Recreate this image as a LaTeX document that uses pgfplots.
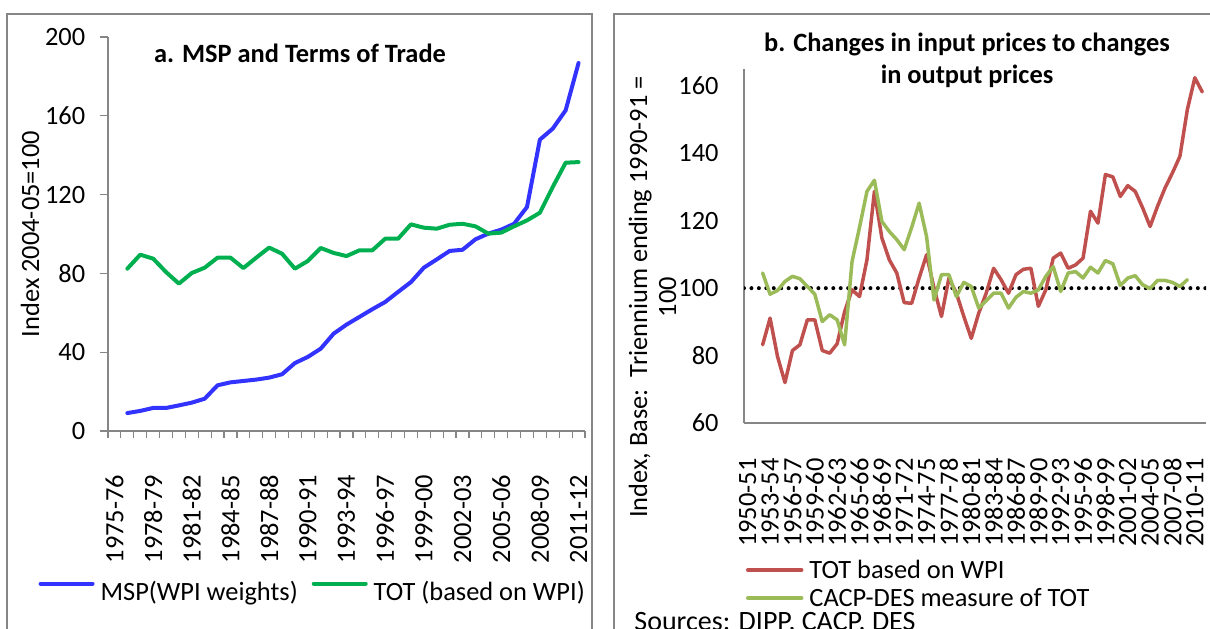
\documentclass[border=0pt]{standalone}
\usepackage{pgfplots}
\pgfplotsset{compat=1.18}
\usepackage{fontspec}
\setmainfont{Carlito}
\definecolor{mspblue}{RGB}{51,51,255}
\definecolor{totgreen}{RGB}{0,176,80}
\definecolor{wpired}{RGB}{192,80,77}
\definecolor{cacpgreen}{RGB}{155,187,89}
\definecolor{framegray}{RGB}{134,134,134}
\definecolor{axisgray}{RGB}{134,134,134}

\pgfplotstableread{
x y
1 9.1
2 10.2
3 11.7
4 11.7
5 13.0
6 14.4
7 16.4
8 23.2
9 24.7
10 25.4
11 26.1
12 27.1
13 28.8
14 34.5
15 37.6
16 41.8
17 49.4
18 54.0
19 57.9
20 61.8
21 65.5
22 70.6
23 75.6
24 82.9
25 87.1
26 91.4
27 92.0
28 97.3
29 100.2
30 102.2
31 105.2
32 113.7
33 147.9
34 153.5
35 162.8
36 186.8
}\msp

\pgfplotstableread{
x y
1 82.4
2 89.5
3 87.5
4 80.7
5 74.8
6 80.2
7 82.9
8 88.0
9 88.0
10 82.7
11 88.0
12 93.1
13 90.0
14 82.4
15 86.3
16 92.9
17 90.4
18 88.8
19 91.7
20 91.7
21 97.6
22 97.6
23 104.9
24 103.2
25 102.7
26 104.7
27 105.2
28 103.9
29 100.2
30 100.7
31 103.9
32 106.9
33 110.8
34 123.9
35 136.2
36 136.5
}\tot

\pgfplotstableread{
x y
2 83.2
3 91.1
4 79.7
5 72.0
6 81.5
7 83.2
8 90.6
9 90.6
10 81.5
11 80.7
12 83.5
13 93.0
14 99.5
15 97.5
16 108.4
17 128.7
18 114.9
19 108.4
20 104.5
21 95.7
22 95.5
23 103.0
24 109.9
25 100.0
26 91.6
27 103.0
28 98.5
29 91.6
30 85.1
31 92.6
32 98.5
33 105.9
34 102.5
35 98.5
36 104.0
37 105.6
38 105.9
39 94.6
40 99.5
41 108.9
42 110.4
43 105.9
44 106.9
45 108.9
46 122.8
47 119.3
48 133.7
49 133.0
50 127.2
51 130.4
52 128.7
53 123.8
54 118.3
55 124.3
56 129.7
57 134.2
58 139.1
59 153.0
60 162.4
61 158.2
}\totwpi

\pgfplotstableread{
x y
2 104.5
3 98.2
4 99.3
5 102.0
6 103.5
7 102.8
8 100.5
9 98.2
10 90.1
11 92.1
12 90.6
13 83.2
14 107.9
15 118.0
16 128.7
17 132.0
18 119.8
19 116.8
20 114.4
21 111.4
22 118.0
23 125.2
24 115.3
25 96.5
26 104.0
27 104.0
28 97.5
29 101.7
30 100.5
31 94.1
32 96.3
33 98.5
34 98.5
35 94.1
36 97.3
37 99.0
38 98.5
39 99.5
40 103.5
41 106.4
42 99.0
43 104.5
44 104.9
45 103.0
46 106.2
47 104.5
48 108.2
49 107.2
50 100.8
51 103.0
52 103.7
53 101.0
54 99.9
55 102.3
56 102.3
57 101.7
58 100.5
59 102.5
}\cacp

\begin{document}
\begin{tikzpicture}[font=\fontsize{13.2}{15.8}\selectfont]
\path[use as bounding box] (0,0) rectangle (605pt,314pt);
\clip (0,0) rectangle (605pt,314pt);
\draw[framegray, line width=1pt] (3.5pt,-20pt) -- (3.5pt,307pt) -- (296pt,307pt) -- (296pt,-20pt);
\draw[framegray, line width=1pt] (307pt,-20pt) -- (307pt,307pt) -- (640pt,307pt);

\begin{axis}[
  at={(54pt,98.5pt)}, anchor=south west,
  width=238.5pt, height=197pt, scale only axis,
  xmin=-0.5, xmax=36.5, ymin=0, ymax=200,
  axis lines=left, axis line style={draw=axisgray, line width=0.6pt, -},
  xtick={0,3,...,36},
  xticklabels={1975-76,1978-79,1981-82,1984-85,1987-88,1990-91,1993-94,1996-97,1999-00,2002-03,2005-06,2008-09,2011-12},
  minor xtick={-0.5,0.5,...,36.5},
  ytick={0,40,...,200},
  tick align=outside, tick pos=left,
  major tick length=4.2pt, minor tick length=3.5pt,
  tick style={axisgray, line width=0.6pt},
  major x tick style={draw=none},
  xticklabel style={rotate=90, anchor=east, inner sep=0pt},
  xticklabel shift=17.5pt,
  yticklabel style={anchor=east, inner sep=0pt},
  yticklabel shift=7pt,
  /pgf/number format/assume math mode=true,
  ylabel={Index 2004-05=100},
  every axis y label/.style={at={(axis description cs:-0.1635,0.5)}, rotate=90, anchor=center},
  title={a. MSP and Terms of Trade},
  title style={at={(axis description cs:0.4025,0.906)}, anchor=base, font=\bfseries\fontsize{13.2}{15.8}\selectfont, inner sep=0pt},
  legend style={at={(axis description cs:-0.1455,-0.4086)}, anchor=west, draw=none, fill=none, inner sep=0pt, outer sep=0pt,
    legend columns=2, /tikz/every even column/.append style={column sep=7pt},
    /tikz/every odd column/.append style={column sep=3pt},
    nodes={inner sep=0pt}},
  legend image code/.code={\draw[#1] (0pt,4.2pt) -- (26pt,4.2pt);},
]
\addplot[mspblue, line width=2pt, line join=round, line cap=round] table {\msp};
\addlegendentry{MSP(WPI weights)}
\addplot[totgreen, line width=2pt, line join=round, line cap=round] table {\tot};
\addlegendentry{TOT (based on WPI)}
\end{axis}

\begin{axis}[
  at={(372pt,102.5pt)}, anchor=south west,
  width=231pt, height=177pt, scale only axis,
  xmin=-0.5, xmax=61.5, ymin=60, ymax=165,
  axis lines=left, axis line style={draw=axisgray, line width=0.6pt, -},
  xtick={0,3,...,60},
  xticklabels={1950-51,1953-54,1956-57,1959-60,1962-63,1965-66,1968-69,1971-72,1974-75,1977-78,1980-81,1983-84,1986-87,1989-90,1992-93,1995-96,1998-99,2001-02,2004-05,2007-08,2010-11},
  ytick={60,80,...,160},
  tick pos=left, major tick length=0pt,
  tick style={draw=none},
  xticklabel style={rotate=90, anchor=east, inner sep=0pt},
  xticklabel shift=17.5pt,
  yticklabel style={anchor=east, inner sep=0pt},
  yticklabel shift=12.5pt,
  /pgf/number format/assume math mode=true,
  ylabel={Index, Base:\ \ Triennium ending 1990-91 =\\100},
  every axis y label/.style={at={(axis description cs:-0.198,0.356)}, rotate=90, anchor=center, align=center, font=\fontsize{13.2}{14.5}\selectfont},
  title={b. Changes in input prices to changes\\in output prices},
  title style={at={(axis description cs:0.4827,1.068)}, anchor=north, align=center, font=\bfseries\fontsize{13.2}{16}\selectfont, inner sep=0pt},
  legend cell align=left,
  legend style={at={(axis description cs:0.0043,-0.4605)}, anchor=west, draw=none, fill=none, inner sep=0pt, outer sep=0pt,
    legend columns=1, row sep=0pt,
    /tikz/every odd column/.append style={column sep=3pt},
    nodes={inner sep=0pt, text height=10pt, text depth=4pt}},
  legend image code/.code={\draw[#1] (0pt,1pt) -- (27pt,1pt);},
]
\addplot[black, line width=2pt, line cap=round, dash pattern=on 0pt off 3.72pt, forget plot] coordinates {(-0.5,100) (61.5,100)};
\addplot[wpired, line width=1.75pt, line join=round, line cap=round] table {\totwpi};
\addlegendentry{TOT based on WPI}
\addplot[cacpgreen, line width=1.75pt, line join=round, line cap=round] table {\cacp};
\addlegendentry{CACP-DES measure of TOT}
\end{axis}

\node[anchor=base west, inner sep=0pt, font=\fontsize{14}{16}\selectfont] at (317pt,-1pt) {Sources: DIPP, CACP, DES};
\end{tikzpicture}
\end{document}
